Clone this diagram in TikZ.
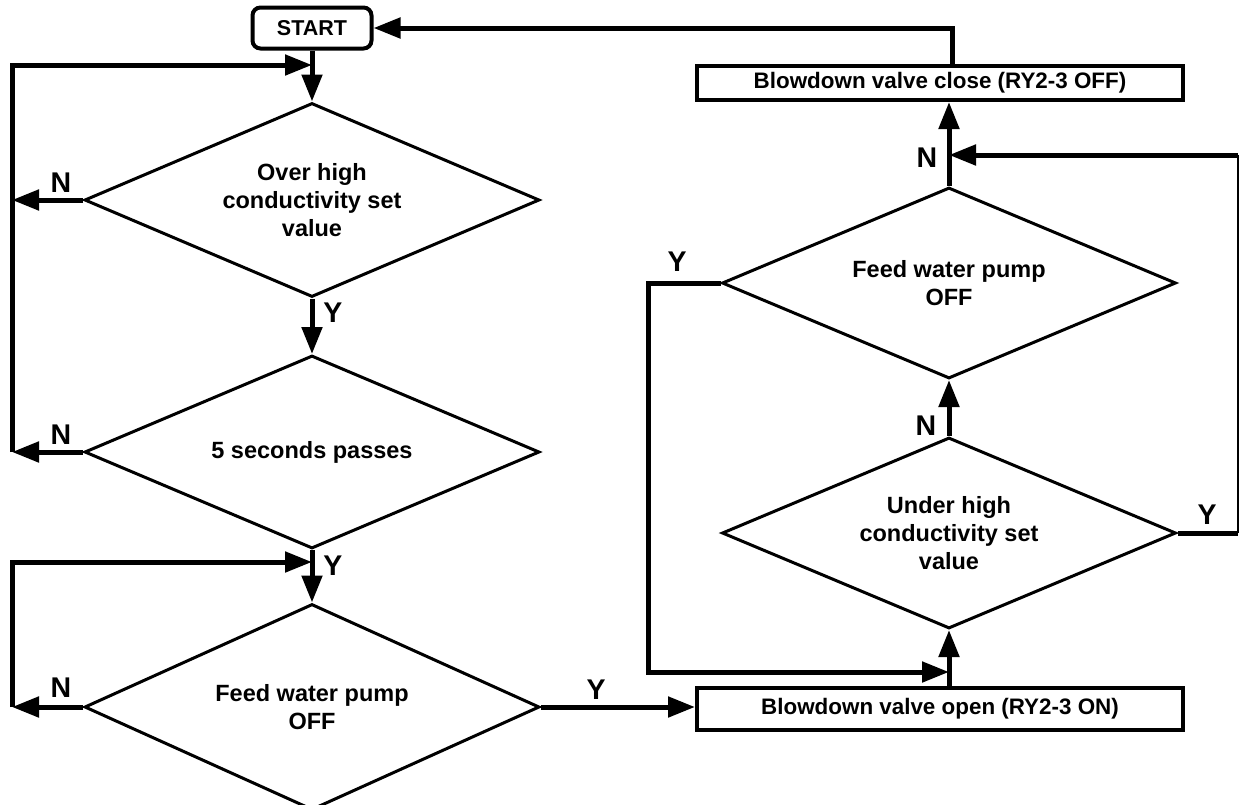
\documentclass[tikz,border=0pt]{standalone}
\usepackage{fontspec}
\setmainfont{Liberation Sans}
\usetikzlibrary{shapes.geometric,arrows.meta}
\begin{document}
\begin{tikzpicture}[x=1pt,y=-1pt,
  txt/.style={font=\fontsize{23.5}{28}\selectfont\bfseries,align=center},
  dia/.style={draw,diamond,line width=3pt,inner sep=0pt,shape aspect=2.35,txt},
  boxx/.style={draw,rectangle,line width=4pt,inner sep=0pt,minimum width=486pt,font=\fontsize{22.4}{26}\selectfont\bfseries},
  conn/.style={line width=5pt},
  thin/.style={line width=2.5pt},
  arr/.style={-{Triangle[length=27pt,width=20pt]}},
  lab/.style={font=\fontsize{28.5}{30}\selectfont\bfseries}]
\useasboundingbox (0,0) rectangle (1243,804);
% nodes
\node[draw,rounded corners=8pt,line width=4pt,minimum width=119pt,minimum height=41pt,inner sep=0pt,font=\fontsize{21.5}{24}\selectfont\bfseries] (start) at (312,28) {START};
\node[dia,minimum width=455pt,minimum height=194pt] (d1) at (312,200) {Over high\\conductivity set\\value};
\node[dia,minimum width=455pt,minimum height=193pt] (d2) at (312,452) {5 seconds passes};
\node[dia,minimum width=455pt,minimum height=206pt] (d3) at (312,707) {Feed water pump\\OFF};
\node[boxx,minimum height=42pt] (open) at (940,709) {Blowdown valve open (RY2-3 ON)};
\node[dia,minimum width=454pt,minimum height=191pt] (d4) at (949,533) {Under high\\conductivity set\\value};
\node[dia,minimum width=454pt,minimum height=191pt] (d5) at (949,283) {Feed water pump\\OFF};
\node[boxx,minimum height=34pt] (close) at (940,83) {Blowdown valve close (RY2-3 OFF)};
% coordinates
\coordinate (L) at (12,0);
\coordinate (J1) at (312,65);
\coordinate (J2) at (312,562);
\coordinate (J3) at (949,672);
\coordinate (J4) at (949,155);
\coordinate (R) at (1238,0);
\coordinate (LL) at (648,0);
\coordinate (T) at (952,31);
% left column
\draw[conn,arr] (start.south) -- (d1.north);
\draw[conn,arr] (d1.south) -- (d2.north);
\draw[conn,arr] (d2.south) -- (d3.north);
\draw[conn,arr] (d1.west) -- (d1.west -| L);
\draw[conn,arr] (d2.west) -- (d2.west -| L);
\draw[conn,arr] (d2.west -| L) |- (J1);
\draw[conn,arr] (d3.west) -- (d3.west -| L);
\draw[conn,arr] (d3.west -| L) |- (J2);
\draw[conn,arr] (d3.east) -- (d3.east -| open.west);
% right column
\draw[conn,arr] (open.north -| d4.south) -- (d4.south);
\draw[conn,arr] (d4.north) -- (d5.south);
\draw[conn,arr] (d5.north) -- (d5.north |- close.south);
\draw[conn,arr] (d5.west) -- (d5.west -| LL) |- (J3);
\draw[conn] (d4.east) -- (d4.east -| R);
\draw[thin] (d4.east -| R) -- (J4 -| R);
\draw[conn,arr] (J4 -| R) -- (J4);
\draw[conn,arr] (close.north -| T) |- (start.east);
% labels
\node[lab] (n1) at (61,183) {N};
\node[lab] (n2) at (61,435) {N};
\node[lab] (n3) at (61,688) {N};
\node[lab] (y1) at (333,313) {Y};
\node[lab] (y2) at (333,566) {Y};
\node[lab] (y3) at (596,690) {Y};
\node[lab] (y4) at (677,262) {Y};
\node[lab] (y5) at (1207,515) {Y};
\node[lab] (n4) at (927,158) {N};
\node[lab] (n5) at (926,426) {N};
\end{tikzpicture}
\end{document}
